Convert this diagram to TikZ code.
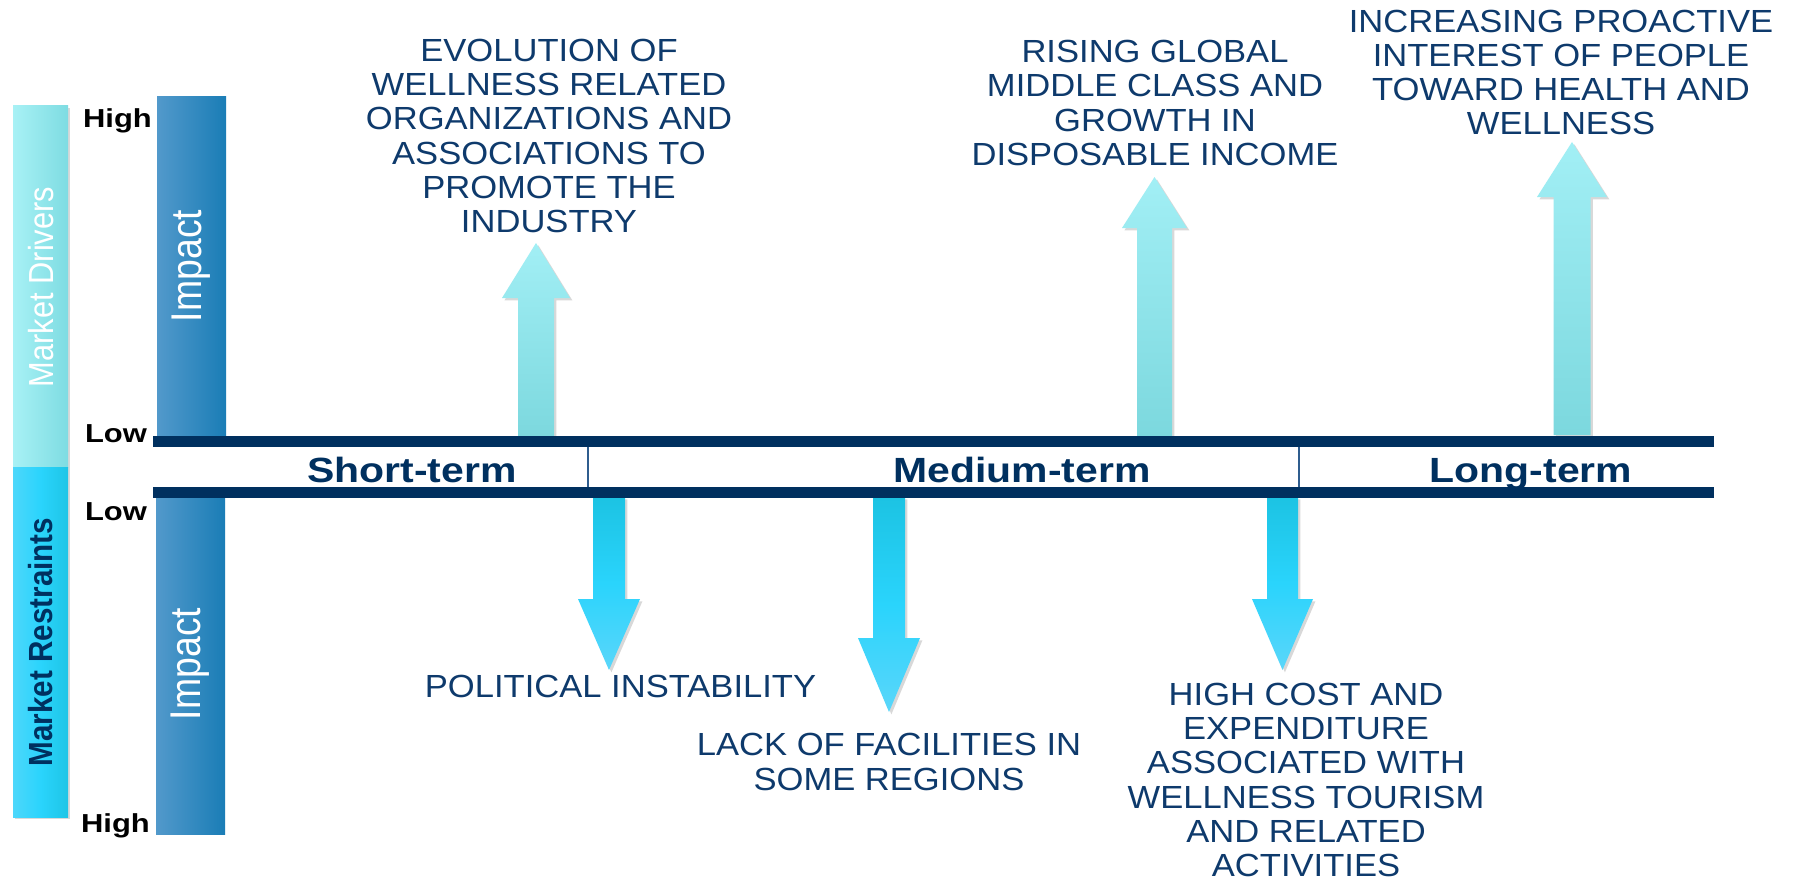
\documentclass[tikz,border=0pt]{standalone}
\usepackage{fontspec}
\setmainfont{Liberation Sans}
\usetikzlibrary{shadows}
\definecolor{navy}{HTML}{00305F}
\definecolor{capblue}{HTML}{0E3A6C}
\definecolor{sepblue}{HTML}{2F5D8E}
\definecolor{upTop}{HTML}{A2EFF5}
\definecolor{upBot}{HTML}{7CD8DE}
\definecolor{dnTop}{HTML}{1CC3E3}
\definecolor{dnMid}{HTML}{2AD4FC}
\definecolor{dnBot}{HTML}{5AD6FA}
\definecolor{impL}{HTML}{5299CB}
\definecolor{impR}{HTML}{1A7DB6}
\definecolor{drvL}{HTML}{A8F1F5}
\definecolor{drvR}{HTML}{7EDCE2}
\definecolor{rstL}{HTML}{4DD7FB}
\definecolor{rstM}{HTML}{2AD4FC}
\definecolor{rstR}{HTML}{1EC5E6}
\tikzset{
  shd/.style={drop shadow={shadow xshift=1.2pt,shadow yshift=-1.2pt,opacity=0.3}},
  uparrow/.style={shd,top color=upTop,bottom color=upBot},
  dnarrow/.style={shd,top color=dnTop,bottom color=dnBot,middle color=dnMid},
  caption/.style={text=capblue,align=center,inner sep=0pt,xscale=1.08,font=\fontsize{16}{17.15}\selectfont},
  term/.style={text=navy,inner sep=0pt,anchor=base,xscale=1.17,font=\fontsize{17.5}{20}\selectfont\bfseries},
  level/.style={text=black,inner sep=0pt,anchor=base,xscale=1.19,font=\fontsize{13}{15}\selectfont\bfseries},
  impact/.style={text=white,inner sep=0pt,xscale=1.15,rotate=90,font=\fontsize{18.7}{20}\selectfont},
  sidelabel/.style={inner sep=0pt,xscale=1.13,rotate=90},
  sepline/.style={sepblue,line width=1pt},
}
% #1 style, #2 centre x, #3 shaft half width, #4 head half width, #5 tip y, #6 head base y, #7 tail y
\newcommand\arrowshape[7]{%
  \path[#1] (#2-#3,#7) -- (#2-#3,#6) -- (#2-#4,#6) -- (#2,#5) -- (#2+#4,#6)
    -- (#2+#3,#6) -- (#2+#3,#7) -- cycle;}
\begin{document}
\begin{tikzpicture}[x=0.5pt,y=-0.5pt]
\useasboundingbox (0,0) rectangle (1804,883);
\fill[white] (0,0) rectangle (1804,883);
% side bars
\path[shd,left color=drvL,right color=drvR] (13,106) rectangle (68,467);
\path[shd,left color=rstL,right color=rstR,middle color=rstM] (13,467) rectangle (68,817);
\node[sidelabel,text=white,font=\fontsize{15.4}{17}\selectfont] (md) at (41,287) {Market Drivers};
\node[sidelabel,text=navy,font=\fontsize{14.8}{17}\selectfont\bfseries] (mr) at (41,642) {Market Restraints};
% impact bars
\path[left color=impL,right color=impR] (157,97) rectangle (226,436);
\path[left color=impL,right color=impR] (156,497) rectangle (225,834);
\node[impact] (imp1) at (191,266) {Impact};
\node[impact] (imp2) at (190.5,664) {Impact};
% level labels
\node[level] (hi1) at (117.5,127) {High};
\node[level] (lo1) at (116,442) {Low};
\node[level] (lo2) at (116,520) {Low};
\node[level] (hi2) at (115.5,832) {High};
% arrows
\arrowshape{uparrow}{536}{18}{34}{243}{298}{437}
\arrowshape{uparrow}{1154.5}{17.5}{32.5}{177}{228}{437}
\arrowshape{uparrow}{1572}{18.5}{35}{142}{197}{435}
\arrowshape{dnarrow}{609}{16}{31}{670}{599}{497}
\arrowshape{dnarrow}{889}{16}{31}{712}{638}{497}
\arrowshape{dnarrow}{1282.5}{15.5}{30.5}{670}{599}{497}
% timeline
\fill[navy] (153,436) rectangle (1714,447);
\fill[navy] (153,487) rectangle (1714,498);
\draw[sepline] (588,447) -- (588,487);
\draw[sepline] (1299,447) -- (1299,487);
\node[term] (st) at (412,482) {Short-term};
\node[term] (mt) at (1022,482) {Medium-term};
\node[term] (lt) at (1531,482) {Long-term};
% captions
\node[caption] (c1) at (549,136) {EVOLUTION OF\\WELLNESS RELATED\\ORGANIZATIONS AND\\ASSOCIATIONS TO\\PROMOTE THE\\INDUSTRY};
\node[caption] (c2) at (1155,103) {RISING GLOBAL\\MIDDLE CLASS AND\\GROWTH IN\\DISPOSABLE INCOME};
\node[caption] (c3) at (1561,72.5) {INCREASING PROACTIVE\\INTEREST OF PEOPLE\\TOWARD HEALTH AND\\WELLNESS};
\node[caption] (c4) at (620.5,686) {POLITICAL INSTABILITY};
\node[caption] (c5) at (889,762) {LACK OF FACILITIES IN\\SOME REGIONS};
\node[caption] (c6) at (1306,780) {HIGH COST AND\\EXPENDITURE\\ASSOCIATED WITH\\WELLNESS TOURISM\\AND RELATED\\ACTIVITIES};
\end{tikzpicture}
\end{document}
